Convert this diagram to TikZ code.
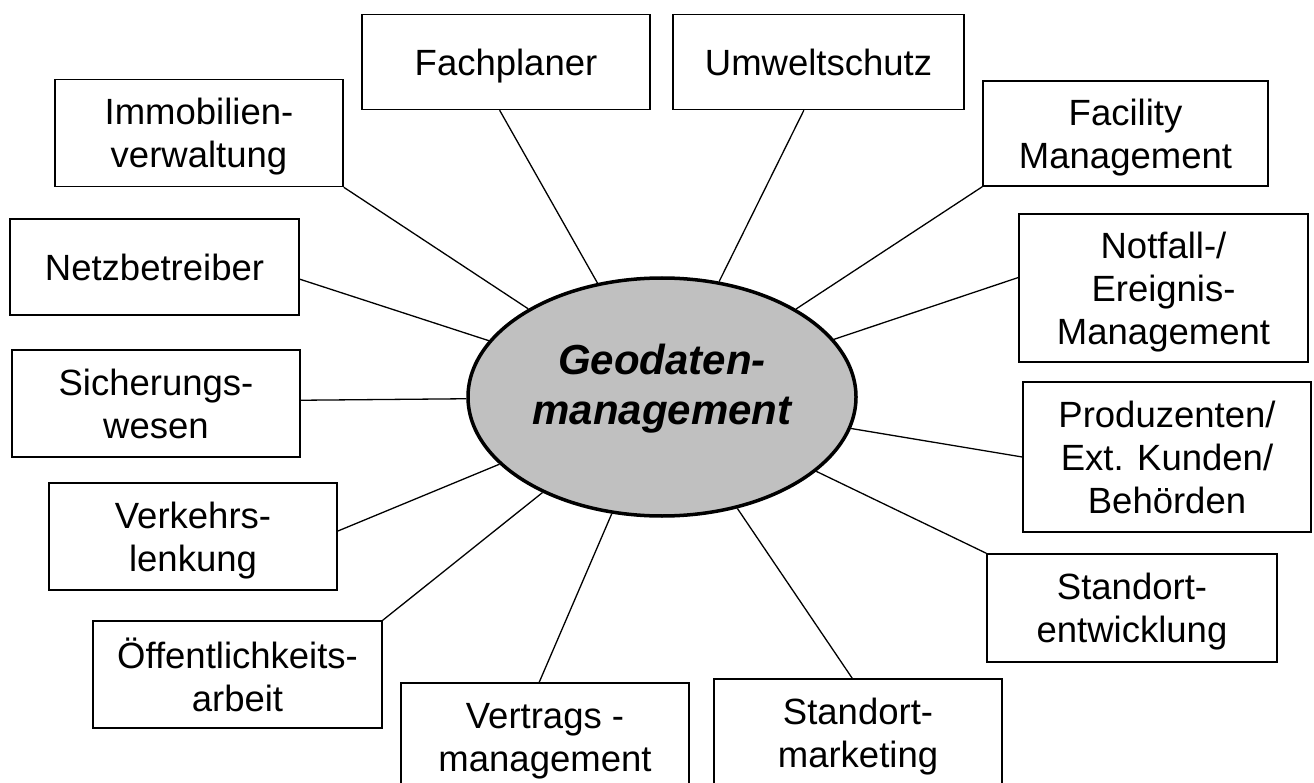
\documentclass[tikz,border=0pt]{standalone}
\usepackage{fontspec}
\setmainfont{Liberation Sans}
\usetikzlibrary{shapes.geometric,calc}
\definecolor{hubgray}{RGB}{192,192,192}
\begin{document}
\begin{tikzpicture}[x=1pt,y=-1pt,
  box/.style={draw, line width=1.5pt, inner sep=0pt, align=center,
    minimum width=288pt, minimum height=107pt, text depth=0pt,
    font=\fontsize{36.5}{43}\selectfont},
  link/.style={line width=1.3pt},
  hub/.style={ellipse, draw, line width=3.5pt, fill=hubgray,
    minimum width=388pt, minimum height=238pt, inner sep=0pt}]
\clip (0,0) rectangle (1314,783);
\fill[white] (0,0) rectangle (1314,783);

% central ellipse
\node[hub] (hub) at (662,397) {};
\node[font=\fontsize{42}{50}\selectfont\bfseries\itshape, align=center]
  (hubtext) at (662,389) {Geodaten-\\management};

% surrounding boxes
\node[box, minimum width=288pt, minimum height=95pt] (fach) at (506,62) {Fachplaner};
\node[box, minimum width=291pt, minimum height=95pt] (umwelt) at (818.5,62) {Umweltschutz};
\node[box] (immo) at (199,133) {Immobilien-\\verwaltung};
\node[box, minimum width=285pt, minimum height=105pt] (facility) at (1125.5,133.5) {Facility\\Management};
\node[box, minimum width=289pt, minimum height=96pt] (netz) at (154.5,267) {Netzbetreiber};
\node[box, minimum width=289pt, minimum height=148pt] (notfall) at (1163.5,288) {Notfall-/\\Ereignis-\\Management};
\node[box, minimum width=288pt, minimum height=107pt] (sicher) at (156,403.5) {Sicherungs-\\wesen};
\node[box, minimum height=150pt] (prod) at (1167,457) {Produzenten/\\Ext. Kunden/\\Behörden};
\node[box] (verkehr) at (193,536.5) {Verkehrs-\\lenkung};
\node[box, minimum width=290pt, minimum height=108pt] (entw) at (1132,608) {Standort-\\entwicklung};
\node[box, minimum width=289pt] (oeff) at (237.5,674.5) {Öffentlichkeits-\\arbeit};
\node[box, minimum height=108pt] (vertrag) at (545,737) {Vertrags -\\management};
\node[box, minimum height=108pt] (marketing) at (858,733) {Standort-\\marketing};

% connectors to the central ellipse
\draw[link] ($(fach.south west)!0.478!(fach.south east)$) -- (hub);
\draw[link] ($(umwelt.south west)!0.45!(umwelt.south east)$) -- (hub);
\draw[link] (immo.south east) -- (hub);
\draw[link] (facility.south west) -- (hub);
\draw[link] ($(netz.north east)!0.625!(netz.south east)$) -- (hub);
\draw[link] ($(notfall.north west)!0.43!(notfall.south west)$) -- (hub);
\draw[link] ($(sicher.north east)!0.47!(sicher.south east)$) -- (hub);
\draw[link] (prod.west) -- (hub);
\draw[link] ($(verkehr.north east)!0.45!(verkehr.south east)$) -- (hub);
\draw[link] (entw.north west) -- (hub);
\draw[link] (oeff.north east) -- (hub);
\draw[link] ($(vertrag.north west)!0.48!(vertrag.north east)$) -- (hub);
\draw[link] ($(marketing.north west)!0.48!(marketing.north east)$) -- (hub);
\end{tikzpicture}
\end{document}
